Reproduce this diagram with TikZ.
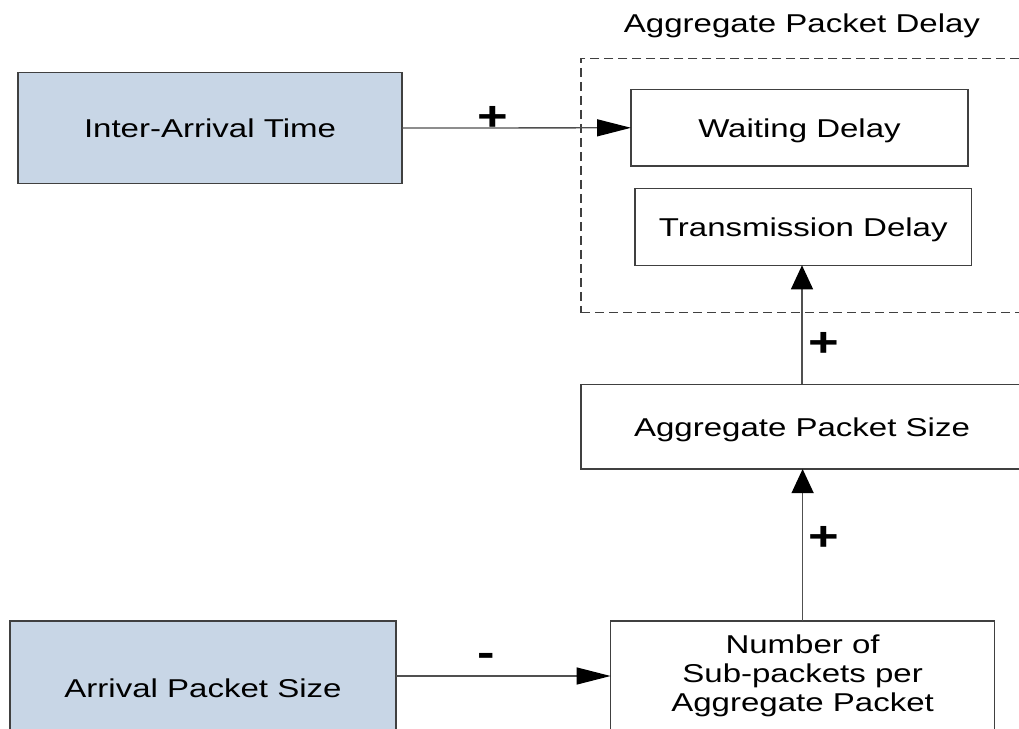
\documentclass[tikz,border=0pt]{standalone}
\usepackage{fontspec}
\usetikzlibrary{arrows.meta}
\newfontfamily\diagfont[FakeStretch=1.28]{Liberation Sans}
\definecolor{srcfill}{RGB}{200,214,230}
\definecolor{edge}{RGB}{64,64,64}
\definecolor{wire}{RGB}{80,80,80}

\begin{document}
\begin{tikzpicture}[x=1pt,y=-1pt,
  every node/.style={inner sep=0pt, outer sep=0pt},
  box/.style={draw=edge, line width=1.5pt, fill=white, text=black,
    font=\diagfont\fontsize{25.8}{28.8}\selectfont},
  onetext/.style={text height=18.8pt, text depth=0pt},
  srcbox/.style={box, fill=srcfill},
  groupbox/.style={draw=edge, line width=1.2pt, dash pattern=on 9pt off 5pt},
  grouplabel/.style={font=\diagfont\fontsize{25.8}{28.8}\selectfont, anchor=base},
  sign/.style={font=\diagfont\bfseries\fontsize{41}{41}\selectfont, anchor=base},
  harrow/.style={draw=wire, line width=1.3pt,
    -{Triangle[length=34pt,width=17pt,color=black]}},
  varrow/.style={draw=wire, line width=1.3pt,
    -{Triangle[length=24pt,width=22pt,color=black]}},
]
\useasboundingbox (0,0) rectangle (1019,728);
\clip (0,0) rectangle (1019,728);

% delay group
\node[groupbox, minimum width=442pt, minimum height=254.4pt] (grp) at (802,185.5) {};
\node[grouplabel] (grplabel) at (802,32.3) {Aggregate Packet Delay};

% boxes
\node[srcbox, onetext, minimum width=384pt, minimum height=110.6pt] (iat) at (210,128) {Inter-Arrival Time};
\node[box, onetext, minimum width=337pt, minimum height=76.5pt] (wd) at (799.5,127.8) {Waiting Delay};
\node[box, onetext, minimum width=336.7pt, minimum height=77pt] (td) at (803.3,226.8) {Transmission Delay};
\node[box, onetext, minimum width=442pt, minimum height=84.7pt] (ags) at (802,426.7) {Aggregate Packet Size};
\node[box, align=center, minimum width=384pt, minimum height=110pt] (nsp) at (802.6,676) {Number of\\Sub-packets per\\Aggregate Packet};
\node[srcbox, onetext, minimum width=386pt, minimum height=133.2pt] (aps) at (203,687.6) {Arrival Packet Size};

% influences
\draw[harrow] (iat.east) -- (wd.west);
\draw[harrow] (aps.east |- nsp.west) -- (nsp.west);
\draw[varrow] (nsp.north) -- (nsp.north |- ags.south);
\draw[varrow] (ags.north) -- (ags.north |- td.south);

% signs
\node[sign] (s1) at (492.8,130.8) {+};
\node[sign] (s2) at (823.7,356.1) {+};
\node[sign] (s3) at (823.5,550.8) {+};
\node[sign] (s4) at (486,666.5) {-};
\end{tikzpicture}
\end{document}
